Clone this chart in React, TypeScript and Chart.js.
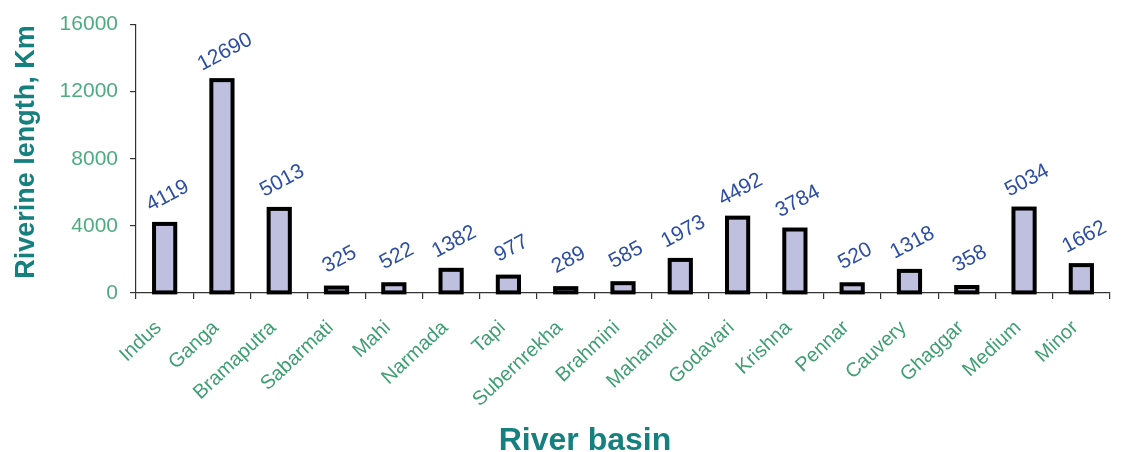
import React, { useEffect, useRef } from "react";
import { Chart, registerables } from "chart.js";

Chart.register(...registerables);

const basins = [
  "Indus", "Ganga", "Bramaputra", "Sabarmati", "Mahi", "Narmada", "Tapi",
  "Subernrekha", "Brahmini", "Mahanadi", "Godavari", "Krishna", "Pennar",
  "Cauvery", "Ghaggar", "Medium", "Minor",
];
const lengthsKm = [
  4119, 12690, 5013, 325, 522, 1382, 977, 289, 585, 1973, 4492, 3784, 520,
  1318, 358, 5034, 1662,
];
const yTicks = [0, 4000, 8000, 12000, 16000];

const FONT = "'Liberation Sans', Arial, Helvetica, sans-serif";
const TEAL = "#16807e";
const GREEN = "#3f9f72";
const VALUE_BLUE = "#2d4ea3";
const OUTLINE = 4;

// Bar outlines centred on the bar edges, rotated value labels, and both axis titles.
const barDecorations = {
  id: "barDecorations",
  afterDatasetsDraw(chart: any) {
    const { ctx } = chart;
    const meta = chart.getDatasetMeta(0);
    ctx.save();
    ctx.strokeStyle = "#000";
    ctx.lineWidth = OUTLINE;
    ctx.lineJoin = "miter";
    meta.data.forEach((bar: any) => {
      const w = bar.width;
      ctx.strokeRect(bar.x - w / 2, bar.y, w, bar.base - bar.y);
    });
    ctx.font = `21px ${FONT}`;
    ctx.fillStyle = VALUE_BLUE;
    ctx.textAlign = "center";
    ctx.textBaseline = "middle";
    meta.data.forEach((bar: any, i: number) => {
      ctx.save();
      ctx.translate(bar.x + 3, bar.y - 28);
      ctx.rotate((-28 * Math.PI) / 180);
      ctx.fillText(String(lengthsKm[i]), 0, 0);
      ctx.restore();
    });
    ctx.restore();
  },
  afterDraw(chart: any) {
    const { ctx } = chart;
    ctx.save();
    ctx.fillStyle = TEAL;
    ctx.textAlign = "center";
    ctx.textBaseline = "alphabetic";
    ctx.font = `bold 32px ${FONT}`;
    ctx.fillText("River basin", 585, 450);
    ctx.font = `bold 27px ${FONT}`;
    ctx.translate(34, 152);
    ctx.rotate(-Math.PI / 2);
    ctx.fillText("Riverine length, Km", 0, 0);
    ctx.restore();
  },
};

export default function App() {
  const canvasRef = useRef<HTMLCanvasElement | null>(null);

  useEffect(() => {
    if (!canvasRef.current) return;
    const chart = new Chart(canvasRef.current, {
      type: "bar",
      data: {
        labels: basins,
        datasets: [
          {
            data: lengthsKm,
            backgroundColor: "#bfc0e0",
            borderWidth: 0,
            categoryPercentage: 1,
            barPercentage: 0.37,
          },
        ],
      },
      options: {
        responsive: false,
        animation: false,
        layout: { padding: { left: 5, right: 19, top: 24, bottom: 0 } },
        plugins: {
          legend: { display: false },
          tooltip: { enabled: false },
        },
        scales: {
          x: {
            border: { display: true, color: "#333", width: 1.2 },
            grid: {
              display: true,
              drawOnChartArea: false,
              drawTicks: true,
              tickLength: 6,
              color: "#333",
              lineWidth: 1.2,
              offset: true,
            },
            ticks: {
              autoSkip: false,
              minRotation: 43,
              maxRotation: 43,
              padding: 17,
              labelOffset: -6,
              color: GREEN,
              font: { family: FONT, size: 20 },
            },
            afterFit: (scale: any) => {
              scale.height = 159;
            },
          },
          y: {
            min: 0,
            max: 16000,
            afterBuildTicks: (scale: any) => {
              scale.ticks = yTicks.map((v) => ({ value: v }));
            },
            border: { display: true, color: "#333", width: 1.2 },
            grid: {
              display: true,
              drawOnChartArea: false,
              drawTicks: true,
              tickLength: 6,
              color: "#333",
              lineWidth: 1.2,
            },
            ticks: {
              padding: 12,
              color: "#4fab80",
              font: { family: FONT, size: 21 },
              callback: (v: any) => String(v),
            },
            afterFit: (scale: any) => {
              scale.width = 131;
            },
          },
        },
      },
      plugins: [barDecorations],
    });
    return () => chart.destroy();
  }, []);

  return (
    <div style={{ position: "fixed", left: 0, top: 0, background: "#fff" }}>
      <canvas ref={canvasRef} width={1129} height={452} />
    </div>
  );
}
